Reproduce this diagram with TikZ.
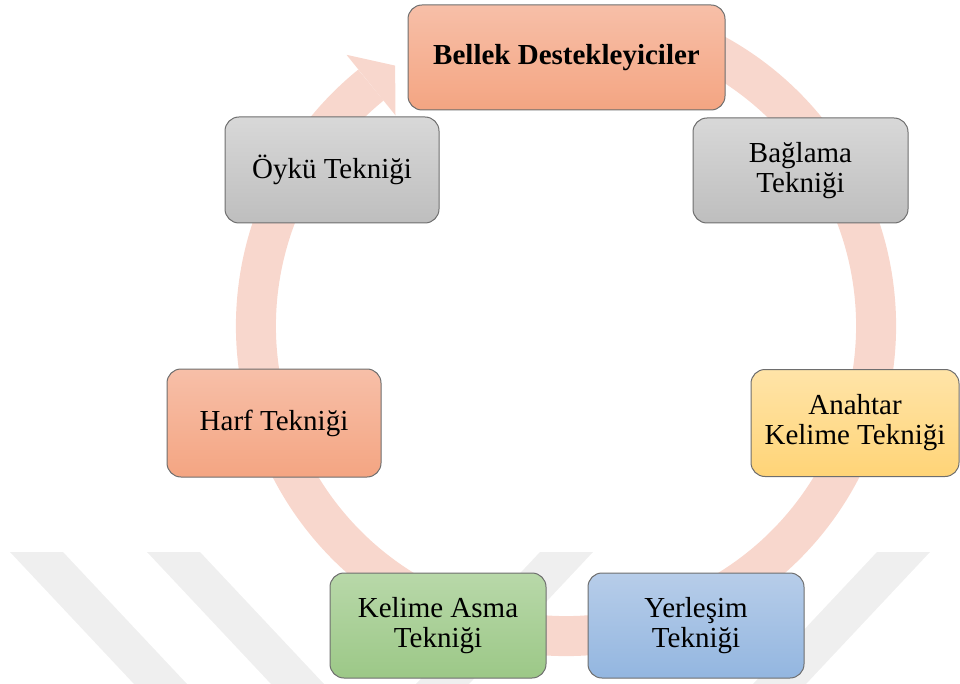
\documentclass[tikz,border=0pt]{standalone}
\usepackage{fontspec}
\setmainfont{Liberation Serif}
\definecolor{ringc}{HTML}{F8D7CD}
\definecolor{wm}{HTML}{EFEFEF}
\definecolor{bordc}{HTML}{6E6E6E}
\definecolor{orT}{HTML}{F7BFA8}
\definecolor{orB}{HTML}{F4A582}
\definecolor{grT}{HTML}{D8D8D8}
\definecolor{grB}{HTML}{BEBEBE}
\definecolor{yeT}{HTML}{FFE4A8}
\definecolor{yeB}{HTML}{FFD477}
\definecolor{blT}{HTML}{B7CDE9}
\definecolor{blB}{HTML}{93B6E0}
\definecolor{gnT}{HTML}{B8D8A9}
\definecolor{gnB}{HTML}{9CC887}
\tikzset{
  box/.style={draw=bordc, line width=1pt, rounded corners=14pt, inner sep=0pt,
    minimum height=105pt, align=center, text=black,
    font=\fontsize{29}{30}\selectfont},
  orangebox/.style={box, top color=orT, bottom color=orB},
  graybox/.style={box, top color=grT, bottom color=grB},
  yellowbox/.style={box, top color=yeT, bottom color=yeB},
  bluebox/.style={box, top color=blT, bottom color=blB},
  greenbox/.style={box, top color=gnT, bottom color=gnB},
  stripe/.style={fill=wm, draw=none},
  ring/.style={draw=ringc, line width=40pt},
}
\begin{document}
\begin{tikzpicture}[x=1pt,y=-1pt]
\useasboundingbox (0,0) rectangle (960,684);
% watermark stripes
\fill[stripe] (10,552) -- (63,552) -- (187,684) -- (134,684) -- cycle;
\fill[stripe] (147,552) -- (200,552) -- (324,684) -- (271,684) -- cycle;
\fill[stripe] (540,552) -- (593,552) -- (469,684) -- (416,684) -- cycle;
\fill[stripe] (877,552) -- (930,552) -- (806,684) -- (753,684) -- cycle;
% cycle ring
\coordinate (c) at (566,326);
\draw[ring] (c) ++(-72:310) arc[start angle=-72, end angle=231, radius=310];
\coordinate (hOut) at (346.5,54.8);
\coordinate (hIn) at (395.5,115.4);
\coordinate (hTip) at (395.1,65.6);
\fill[ringc] (hOut) -- (hTip) -- (hIn) -- cycle;
% boxes
\node[orangebox, minimum width=317pt, font=\fontsize{29}{30}\selectfont\bfseries] (top) at (566.5,57.5) {Bellek Destekleyiciler};
\node[graybox, minimum width=215pt] (bag) at (800.5,170.5) {Bağlama\\Tekniği};
\node[yellowbox, minimum width=208pt, minimum height=107pt] (ana) at (855,423) {Anahtar\\Kelime Tekniği};
\node[bluebox, minimum width=216pt] (yer) at (696,625.5) {Yerleşim\\Tekniği};
\node[greenbox, minimum width=216pt] (kel) at (438,625.5) {Kelime Asma\\Tekniği};
\node[orangebox, minimum width=214pt, minimum height=108pt] (harf) at (274,423) {Harf Tekniği};
\node[graybox, minimum width=214pt, minimum height=106pt] (oyku) at (332,170) {Öykü Tekniği};
\end{tikzpicture}
\end{document}
